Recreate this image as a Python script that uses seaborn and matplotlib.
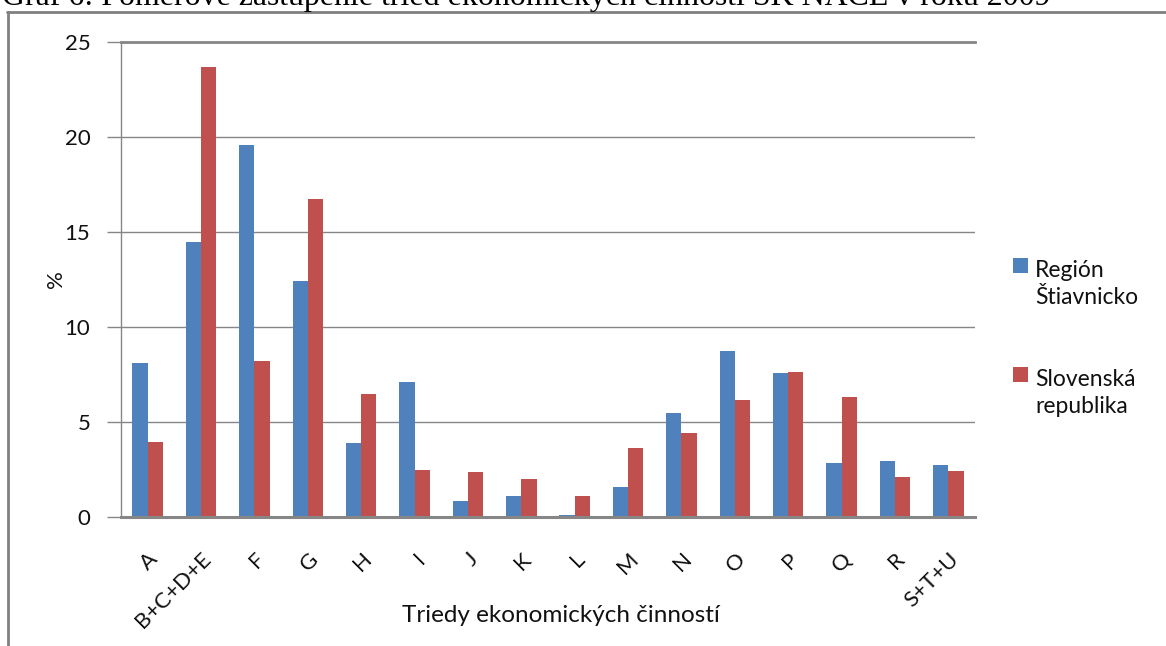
import matplotlib
matplotlib.use("Agg")
import matplotlib.pyplot as plt
from matplotlib.lines import Line2D
from matplotlib.patches import Rectangle
import pandas as pd
import seaborn as sns

# Triedy ekonomických činností SK NACE
triedy = ["A", "B+C+D+E", "F", "G", "H", "I", "J", "K", "L", "M",
          "N", "O", "P", "Q", "R", "S+T+U"]
# podiel v % – región Štiavnicko
region = [8.1, 14.5, 19.6, 12.4, 3.9, 7.1, 0.85, 1.1, 0.1, 1.6,
          5.5, 8.75, 7.6, 2.85, 2.95, 2.75]
# podiel v % – Slovenská republika
slovensko = [3.95, 23.7, 8.2, 16.75, 6.5, 2.5, 2.35, 2.0, 1.1, 3.65,
             4.4, 6.15, 7.65, 6.3, 2.1, 2.4]
serie = ["Región Štiavnicko", "Slovenská republika"]
legenda = ["Región\nŠtiavnicko", "Slovenská\nrepublika"]
farby = ["#4F81BD", "#C0504D"]
y_ticks = [0, 5, 10, 15, 20, 25]

nadpis = "Graf 6: Pomerové zastúpenie tried ekonomických činností SK NACE v roku 2009"

df = pd.DataFrame({
    "trieda": triedy * 2,
    "podiel": region + slovensko,
    "seria": [serie[0]] * len(triedy) + [serie[1]] * len(triedy),
})

sns.set_style("white")
plt.rcParams["font.family"] = ["Lato", "DejaVu Sans"]

W, H = 1166, 646
fig = plt.figure(figsize=(W / 100, H / 100), dpi=100)
ax = fig.add_axes([121 / W, 1 - 517 / H, (975 - 121) / W, (517 - 42) / H])

sns.barplot(data=df, x="trieda", y="podiel", hue="seria", order=triedy,
            hue_order=serie, palette=farby, width=0.57, saturation=1,
            linewidth=0, ax=ax, legend=False)

grey = "#868686"
txt_col = "#111111"
ax.set_ylim(0, 25)
ax.set_xlim(-0.5, len(triedy) - 0.5)
ax.set_yticks(y_ticks)
ax.yaxis.grid(True, color=grey, linewidth=1)
ax.set_axisbelow(True)

ax.spines["right"].set_visible(False)
ax.spines["left"].set_color(grey)
ax.spines["left"].set_linewidth(1)
ax.spines["bottom"].set_color(grey)
ax.spines["bottom"].set_linewidth(2.2)
ax.spines["top"].set_color(grey)
ax.spines["top"].set_linewidth(2)

ax.tick_params(axis="y", which="major", direction="out", length=10, width=1,
               color=grey, labelsize=16, pad=12, left=True, labelcolor=txt_col)
ax.tick_params(axis="x", length=0, labelsize=16, pad=23, labelcolor=txt_col)
for lbl in ax.get_xticklabels():
    lbl.set_rotation(45)
    lbl.set_ha("right")
    lbl.set_va("top")
    lbl.set_rotation_mode("anchor")

ax.set_xlabel("Triedy ekonomických činností", fontsize=17.5, color=txt_col)
ax.xaxis.set_label_coords((561 - 121) / 854, (517 - 605) / 475)
ax.xaxis.label.set_va("top")
ax.set_ylabel("%", fontsize=16, color=txt_col)
ax.yaxis.set_label_coords((66 - 121) / 854, 0.5)

# legenda vpravo od grafu: štvorček pri prvom riadku popisu
for i, (txt, col) in enumerate(zip(legenda, farby)):
    top = 258 + i * 109
    fig.patches.append(Rectangle((1013 / W, 1 - (top + 15) / H), 15 / W, 15 / H,
                                 transform=fig.transFigure, facecolor=col,
                                 edgecolor="none"))
    fig.text(1035 / W, 1 - (top + 46) / H, txt, fontsize=16.5, color=txt_col,
             va="baseline", ha="left", linespacing=1.35)

# rámček okolo grafu
fig.add_artist(Line2D([7 / W, 1], [1 - 12 / H, 1 - 12 / H], color="#808080",
                      linewidth=2, transform=fig.transFigure))
fig.add_artist(Line2D([8 / W, 8 / W], [1 - 12 / H, 0], color="#808080",
                      linewidth=2, transform=fig.transFigure))

# nadpis nad rámčekom, prispôsobený šírke
t = fig.text(2 / W, 1 - 5 / H, nadpis, family="Liberation Serif", fontsize=20,
             va="baseline", ha="left", color="black")
fig.canvas.draw()
w = t.get_window_extent().width
t.set_fontsize(20 * (1050 - 2) / w)

fig.savefig("out.png", dpi=100)
